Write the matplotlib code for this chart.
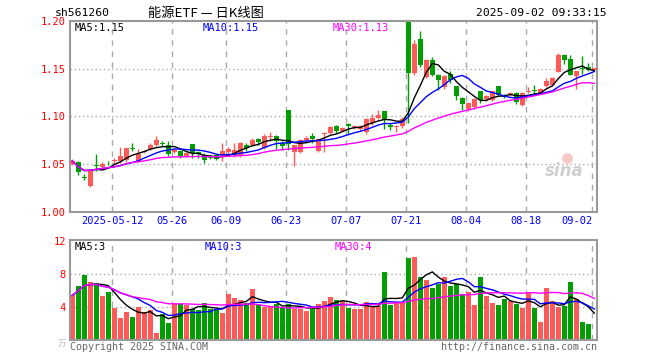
import matplotlib
matplotlib.use('Agg')
import matplotlib.pyplot as plt
import pandas as pd

# ---- data ----
open_ = [1.050, 1.052, 1.036, 1.027, 1.049, 1.047, 1.051, 1.053, 1.053, 1.054,
         1.067, 1.053, 1.062, 1.066, 1.070, 1.072, 1.070, 1.062, 1.064, 1.058,
         1.071, 1.062, 1.059, 1.057, 1.059, 1.057, 1.062, 1.059, 1.059, 1.070,
         1.070, 1.076, 1.067, 1.078, 1.0795, 1.072, 1.1066, 1.062, 1.062, 1.0753,
         1.0795, 1.0634, 1.081, 1.082, 1.0895, 1.0847, 1.092, 1.089, 1.0865, 1.083,
         1.0925, 1.098, 1.106, 1.0913, 1.089, 1.0895, 1.1985, 1.145, 1.181, 1.1413,
         1.1587, 1.143, 1.1309, 1.1448, 1.1316, 1.1194, 1.1073, 1.1093, 1.1267, 1.118,
         1.117, 1.1316, 1.1215, 1.123, 1.124, 1.1118, 1.1253, 1.1275, 1.124, 1.1316,
         1.1326, 1.1465, 1.164, 1.1597, 1.142, 1.150, 1.1517, 1.1482]
high = [1.055, 1.053, 1.039, 1.045, 1.060, 1.052, 1.053, 1.056, 1.068, 1.067,
        1.072, 1.066, 1.065, 1.072, 1.079, 1.074, 1.074, 1.067, 1.065, 1.062,
        1.071, 1.063, 1.061, 1.059, 1.060, 1.072, 1.068, 1.072, 1.073, 1.072,
        1.077, 1.077, 1.081, 1.083, 1.080, 1.074, 1.1066, 1.070, 1.076, 1.0795,
        1.0823, 1.0775, 1.083, 1.090, 1.0905, 1.089, 1.093, 1.091, 1.091, 1.098,
        1.102, 1.1065, 1.106, 1.093, 1.091, 1.099, 1.200, 1.180, 1.190, 1.160,
        1.162, 1.144, 1.143, 1.148, 1.132, 1.120, 1.115, 1.119, 1.127, 1.122,
        1.127, 1.132, 1.123, 1.125, 1.125, 1.1255, 1.131, 1.1326, 1.130, 1.1405,
        1.141, 1.166, 1.165, 1.164, 1.1476, 1.1628, 1.156, 1.151]
low = [1.049, 1.038, 1.033, 1.026, 1.042, 1.046, 1.049, 1.050, 1.051, 1.052,
       1.063, 1.052, 1.061, 1.065, 1.069, 1.069, 1.058, 1.061, 1.056, 1.057,
       1.056, 1.056, 1.051, 1.055, 1.054, 1.053, 1.061, 1.057, 1.057, 1.064,
       1.069, 1.070, 1.066, 1.0745, 1.0657, 1.065, 1.065, 1.0474, 1.061, 1.073,
       1.072, 1.0625, 1.0622, 1.0815, 1.082, 1.084, 1.0815, 1.087, 1.084, 1.0815,
       1.091, 1.097, 1.0865, 1.086, 1.0835, 1.088, 1.093, 1.143, 1.1517, 1.140,
       1.142, 1.1274, 1.129, 1.1344, 1.117, 1.107, 1.106, 1.108, 1.1142, 1.116,
       1.116, 1.121, 1.119, 1.121, 1.113, 1.111, 1.124, 1.1232, 1.123, 1.131,
       1.132, 1.146, 1.155, 1.143, 1.1291, 1.1441, 1.147, 1.147]
close = [1.053, 1.041, 1.035, 1.044, 1.048, 1.050, 1.0505, 1.054, 1.058, 1.067,
         1.066, 1.060, 1.064, 1.070, 1.075, 1.071, 1.060, 1.065, 1.058, 1.061,
         1.061, 1.060, 1.054, 1.056, 1.055, 1.063, 1.066, 1.065, 1.072, 1.067,
         1.075, 1.073, 1.0795, 1.079, 1.0735, 1.069, 1.0707, 1.0693, 1.0753, 1.077,
         1.0758, 1.0765, 1.0815, 1.089, 1.084, 1.088, 1.090, 1.0895, 1.090, 1.097,
         1.098, 1.101, 1.097, 1.0885, 1.090, 1.097, 1.145, 1.176, 1.1534, 1.1593,
         1.143, 1.1378, 1.1424, 1.138, 1.1212, 1.1125, 1.1142, 1.1184, 1.117, 1.121,
         1.1264, 1.1222, 1.1205, 1.124, 1.1152, 1.1246, 1.1257, 1.127, 1.129, 1.137,
         1.1406, 1.164, 1.1593, 1.143, 1.1476, 1.1495, 1.1482, 1.151]
volume = [5.4, 6.5, 7.9, 7.0, 6.9, 5.3, 5.8, 3.9, 2.7, 3.4,
          2.8, 4.0, 3.4, 3.6, 0.8, 3.1, 2.0, 4.4, 4.3, 4.2,
          3.7, 3.6, 4.5, 3.7, 3.8, 3.3, 5.6, 5.1, 4.8, 4.5,
          6.2, 4.2, 4.0, 4.0, 4.4, 4.0, 4.4, 3.8, 3.8, 3.5,
          3.8, 4.4, 4.7, 5.2, 4.8, 4.7, 3.9, 3.8, 3.8, 4.6,
          4.1, 4.1, 8.2, 4.2, 4.5, 4.5, 9.9, 10.1, 7.6, 7.3,
          6.3, 6.8, 7.6, 6.5, 6.8, 5.6, 5.8, 4.2, 7.6, 5.3,
          4.5, 4.2, 5.0, 4.7, 4.4, 3.9, 5.7, 3.9, 2.2, 6.3,
          4.7, 4.0, 4.1, 7.0, 5.0, 2.2, 1.9, 0.1]
tick_pos = [7, 17, 26, 36, 46, 56, 66, 76, 87]
tick_labels = ['2025-05-12', '05-26', '06-09', '06-23', '07-07',
               '07-21', '08-04', '08-18', '09-02']
price_ticks = [1.00, 1.05, 1.10, 1.15, 1.20]
vol_ticks = [4, 8, 12]
price_ma_labels = ['MA5:1.15', 'MA10:1.15', 'MA30:1.13']
vol_ma_labels = ['MA5:3', 'MA10:3', 'MA30:4']

RED = '#FF5A5A'
GREEN = '#009E00'
GRID = '#AAAAAA'
SPINE = '#999999'
MA_COLORS = ['black', '#0000FF', '#FF00FF']
MONO = 'DejaVu Sans Mono'
CJK = ['Noto Sans CJK SC', 'DejaVu Sans']

n = len(close)
xs = list(range(n))
colors = [RED if c >= o else GREEN for o, c in zip(open_, close)]

fig = plt.figure(figsize=(6.6, 3.6), dpi=100)
W, H = 660.0, 360.0
ax = fig.add_axes([70 / W, 1 - 211.5 / H, 527 / W, 190.5 / H])
axv = fig.add_axes([70 / W, 1 - 340 / H, 527 / W, 100 / H])

xlim = (-0.38, 87.45)

# ---- price panel ----
for a in (ax, axv):
    a.set_xlim(*xlim)
    for s in a.spines.values():
        s.set_color(SPINE)
        s.set_linewidth(1.5)
    for p in tick_pos:
        a.axvline(p - 0.33, color=GRID, lw=1, dashes=(4, 4), zorder=0)

ax.set_ylim(1.0, 1.2)
for y in price_ticks[1:-1]:
    ax.axhline(y, color=GRID, lw=1, ls=(0, (1, 2)), zorder=0)

ax.vlines(xs, low, high, colors=colors, lw=1, zorder=2)
body_h = [max(abs(c - o), 0.0009) for o, c in zip(open_, close)]
body_b = [min(o, c) for o, c in zip(open_, close)]
ax.bar(xs, body_h, bottom=body_b, width=0.78, color=colors, lw=0, zorder=3)

cs = pd.Series(close)
for w, col in zip((5, 10, 30), MA_COLORS):
    ax.plot(xs, cs.rolling(w, min_periods=1).mean(), color=col, lw=1, zorder=4)

ax.set_yticks(price_ticks)
ax.set_yticklabels(['%.2f' % v for v in price_ticks], color='red',
                   fontsize=7.5, family=MONO)
ax.set_xticks([p - 0.33 for p in tick_pos])
ax.set_xticklabels(tick_labels, color='#0000FF', fontsize=7.5, family=MONO)
ax.get_xticklabels()[-1].set_ha('right')
ax.tick_params(length=0, pad=3)

for lab, col, px in zip(price_ma_labels, MA_COLORS, (75, 203, 333)):
    ax.text((px - 72.3) / 6, 1.193, lab, color=col, fontsize=7.5,
            family=MONO, va='center', ha='left', zorder=5)

# sina watermark
ax.text(82.0, 1.043, 'sina', color='#CFCFCF', fontsize=12, style='italic',
        weight='bold', ha='center', va='center', zorder=1)
ax.scatter([82.5], [1.056], s=60, color='#F6C7C7', zorder=1, lw=0)

# ---- volume panel ----
axv.set_ylim(0, 12.1)
for y in vol_ticks[:-1]:
    axv.axhline(y, color=GRID, lw=1, ls=(0, (1, 2)), zorder=0)
axv.bar(xs, volume, width=0.85, color=colors, lw=0, zorder=2)
vs = pd.Series(volume)
for w, col in zip((5, 10, 30), MA_COLORS):
    axv.plot(xs, vs.rolling(w, min_periods=1).mean(), color=col, lw=1, zorder=4)
axv.set_yticks(vol_ticks)
axv.set_yticklabels([str(v) for v in vol_ticks], color='red',
                    fontsize=7.5, family=MONO)
axv.set_xticks([])
axv.tick_params(length=0, pad=3)
for lab, col, px in zip(vol_ma_labels, MA_COLORS, (75, 205, 335)):
    axv.text((px - 72.3) / 6, 11.2, lab, color=col, fontsize=7.5,
             family=MONO, va='center', ha='left', zorder=5)

# ---- header / footer texts ----
fig.text(55 / W, 1 - 13 / H, 'sh561260', fontsize=8.2, family=MONO,
         va='center', ha='left')
fig.text(148 / W, 1 - 13 / H, '能源ETF — 日K线图', fontsize=9.5, family=CJK,
         va='center', ha='left')
fig.text(607 / W, 1 - 13 / H, '2025-09-02 09:33:15', fontsize=8.2,
         family=MONO, va='center', ha='right')
fig.text(66 / W, 1 - 343 / H, '万', fontsize=6, family=CJK, color='#BBBBBB',
         va='center', ha='right')
fig.text(70 / W, 1 - 347 / H, 'Copyright 2025 SINA.COM', fontsize=7.2,
         family=MONO, color='#666666', va='center', ha='left')
fig.text(597 / W, 1 - 347 / H, 'http://finance.sina.com.cn', fontsize=7.2,
         family=MONO, color='#666666', va='center', ha='right')

fig.savefig('out.png', dpi=100, facecolor='white')
